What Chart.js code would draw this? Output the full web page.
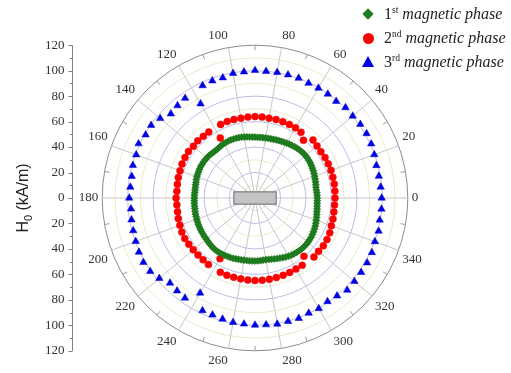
<!DOCTYPE html>
<html>
<head>
<meta charset="utf-8">
<script src="https://cdn.jsdelivr.net/npm/chart.js@4.4.1/dist/chart.umd.min.js"></script>
<style>
  html, body { margin: 0; padding: 0; background: #fff; }
  #wrap { position: relative; width: 511px; height: 373px; }
  #legend { position: absolute; left: 0; top: 0; font-family: 'Liberation Serif', 'Times New Roman', serif; font-size: 16px; color: #222; }
  .row { position: absolute; left: 384px; height: 20px; line-height: 20px; white-space: nowrap; }
  .row sup { font-size: 9.5px; vertical-align: 0; position: relative; top: -6px; }
  .mk { position: absolute; }
  .dia { width: 8px; height: 8px; background: #1e7d1e; transform: rotate(45deg); left: 364px; top: 10px; }
  .dot { width: 11px; height: 11px; border-radius: 50%; background: #f00; left: 362.5px; top: 32.5px; }
  .tri { width: 0; height: 0; border-left: 6px solid transparent; border-right: 6px solid transparent; border-bottom: 11px solid #0000e6; left: 362px; top: 56px; }
</style>
</head>
<body>
<div id="wrap">
  <canvas id="chart"></canvas>
  <div id="legend">
    <div class="mk dia"></div>
    <div class="row" style="top:4px">1<sup>st</sup> <i>magnetic phase</i></div>
    <div class="mk dot"></div>
    <div class="row" style="top:28px">2<sup>nd</sup> <i>magnetic phase</i></div>
    <div class="mk tri"></div>
    <div class="row" style="top:52px">3<sup>rd</sup> <i>magnetic phase</i></div>
  </div>
</div>
<script>
// Field direction (degrees) for each measured point
const phase1Angles = Array.from({ length: 144 }, (_, i) => i * 2.5);
const phase23Angles = Array.from({ length: 72 }, (_, i) => i * 5);

// Switching field H0 (kA/m), 1st phase, every 2.5 deg from 0
const phase1 = [
  48.9, 48.8, 48.7, 48.6, 48.6, 48.9, 49.2, 49.5,
  49.8, 50.2, 50.5, 50.8, 51.1, 51.4, 51.6, 51.7,
  51.8, 51.8, 51.6, 51.4, 51.2, 50.8, 50.4, 50.1,
  49.8, 49.4, 49.1, 48.8, 48.6, 48.3, 48.1, 48.0,
  47.9, 47.8, 47.8, 47.7, 47.8, 47.9, 48.1, 48.4,
  48.6, 48.9, 49.1, 49.2, 49.3, 49.4, 49.4, 49.3,
  49.3, 49.0, 48.7, 48.5, 48.5, 48.6, 48.9, 49.1,
  49.2, 49.3, 49.4, 49.3, 49.3, 49.1, 48.9, 48.8,
  48.6, 48.3, 48.0, 47.8, 47.6, 47.5, 47.5, 47.6,
  47.6, 47.7, 47.8, 47.9, 48.0, 48.2, 48.4, 48.5,
  48.7, 48.9, 49.1, 49.3, 49.4, 49.6, 49.7, 49.9,
  50.0, 50.3, 50.6, 50.9, 51.2, 51.3, 51.3, 51.2,
  51.1, 50.9, 50.7, 50.6, 50.4, 50.1, 49.9, 49.7,
  49.6, 49.5, 49.5, 49.5, 49.5, 49.4, 49.3, 49.2,
  49.2, 49.4, 49.8, 50.2, 50.6, 51.1, 51.7, 52.3,
  52.8, 53.2, 53.5, 53.8, 54.0, 54.2, 54.3, 54.3,
  54.2, 54.0, 53.8, 53.5, 53.1, 52.7, 52.2, 51.7,
  51.2, 50.7, 50.2, 49.8, 49.5, 49.2, 49.0, 48.9
];

// 2nd phase, every 5 deg from 0
const phase2 = [
  62.8, 63.0, 63.2, 63.3, 63.5, 63.5, 63.5, 63.2,
  63.6, 64.4, 59.2, 63.0, 63.6, 63.8, 63.8, 63.8,
  63.7, 63.8, 64.0, 63.8, 63.7, 63.8, 63.9, 63.8,
  54.5, 63.3, 63.2, 63.6, 63.2, 63.8, 63.5, 63.3,
  62.7, 62.4, 61.9, 61.6, 62.0, 61.6, 61.8, 62.4,
  62.8, 63.4, 63.7, 63.4, 63.3, 63.3, 63.4, 63.8,
  55.0, 64.4, 64.6, 64.5, 64.5, 64.6, 64.8, 64.8,
  64.8, 64.7, 64.6, 64.5, 64.3, 64.6, 59.8, 65.5,
  65.2, 65.5, 65.3, 64.8, 63.8, 63.4, 62.9, 62.7
];

// 3rd phase, every 5 deg from 0
const phase3 = [
  99.5, 99.1, 98.8, 98.7, 99.7, 100.7, 101.2, 101.0,
  100.2, 100.5, 99.2, 99.7, 99.7, 99.5, 100.2, 100.2,
  100.2, 99.9, 100.2, 99.5, 99.4, 97.8, 98.0, 97.4,
  85.5, 95.7, 94.7, 93.5, 97.2, 99.6, 99.2, 100.9,
  99.3, 99.3, 98.3, 98.3, 98.8, 97.8, 98.5, 99.0,
  99.7, 100.6, 101.2, 100.5, 98.1, 94.4, 95.2, 95.9,
  86.2, 97.6, 97.7, 98.4, 99.2, 99.3, 99.8, 99.9,
  100.5, 100.3, 100.6, 99.8, 100.2, 99.3, 100.3, 102.4,
  101.9, 101.8, 101.7, 101.3, 100.2, 100.5, 99.5, 99.7
];

const angleTicks = [0, 20, 40, 60, 80, 100, 120, 140, 160, 180, 200, 220, 240, 260, 280, 300, 320, 340];
const fieldTicks = [0, 20, 40, 60, 80, 100, 120];
const fieldMax = 120;

// The radial scale runs clockwise from the top; map each slot to a
// counter-clockwise angle measured from the right-hand side.
const SLOTS = 144;
const slotAngle = i => ((90 - 2.5 * i) % 360 + 360) % 360;
const slotLabels = Array.from({ length: SLOTS }, (_, i) => slotAngle(i));

function toSlots(angles, values) {
  const m = new Map(angles.map((a, k) => [a, values[k]]));
  return slotLabels.map(t => (m.has(t) ? m.get(t) : null));
}

const serif = "'Liberation Serif', 'Times New Roman', serif";

const polarExtras = {
  id: 'polarExtras',
  beforeDatasetsDraw(chart) {
    const s = chart.scales.r;
    const ctx = chart.ctx;
    const R = s.getDistanceFromCenterForValue(fieldMax);
    ctx.save();
    // short rim ticks halfway between labelled directions
    ctx.strokeStyle = '#9a9a9a';
    ctx.lineWidth = 1;
    slotLabels.forEach((t, i) => {
      if (t % 10 === 0 && t % 20 !== 0) {
        const a = s.getPointPosition(i, R);
        const b = s.getPointPosition(i, R - 5);
        ctx.beginPath();
        ctx.moveTo(a.x, a.y);
        ctx.lineTo(b.x, b.y);
        ctx.stroke();
      }
    });
    // sample outline at the centre
    const hw = s.getDistanceFromCenterForValue(17);
    const hh = s.getDistanceFromCenterForValue(5.2);
    ctx.fillStyle = '#c3c3c3';
    ctx.strokeStyle = '#707070';
    ctx.fillRect(s.xCenter - hw, s.yCenter - hh, 2 * hw, 2 * hh);
    ctx.strokeRect(s.xCenter - hw + 0.5, s.yCenter - hh + 0.5, 2 * hw - 1, 2 * hh - 1);
    ctx.restore();
  },
  afterDraw(chart) {
    const s = chart.scales.r;
    const ctx = chart.ctx;
    const x = 72.5;
    const yc = s.yCenter;
    const R = s.getDistanceFromCenterForValue(fieldMax);
    ctx.save();
    ctx.strokeStyle = '#808080';
    ctx.lineWidth = 1;
    ctx.beginPath();
    ctx.moveTo(x, yc - R);
    ctx.lineTo(x, yc + R);
    for (let v = 0; v <= fieldMax; v += 10) {
      const d = s.getDistanceFromCenterForValue(v);
      const len = v % 20 === 0 ? 4 : 2.5;
      [-1, 1].forEach(sg => {
        const y = Math.round(yc + sg * d) + 0.5;
        ctx.moveTo(x, y);
        ctx.lineTo(x - len, y);
      });
    }
    ctx.stroke();
    ctx.fillStyle = '#333';
    ctx.font = '13px ' + serif;
    ctx.textAlign = 'right';
    ctx.textBaseline = 'middle';
    fieldTicks.forEach(v => {
      const d = s.getDistanceFromCenterForValue(v);
      ctx.fillText(String(v), x - 8, yc - d);
      if (v !== 0) ctx.fillText(String(v), x - 8, yc + d);
    });
    // axis title H0 (kA/m)
    ctx.translate(22, yc);
    ctx.rotate(-Math.PI / 2);
    ctx.fillStyle = '#222';
    ctx.textAlign = 'left';
    ctx.textBaseline = 'alphabetic';
    const big = "16px 'Liberation Sans', Arial, sans-serif";
    const small = "11px 'Liberation Sans', Arial, sans-serif";
    ctx.font = big;
    const wH = ctx.measureText('H').width;
    const rest = ' (kA/m)';
    const wRest = ctx.measureText(rest).width;
    ctx.font = small;
    const w0 = ctx.measureText('0').width;
    const total = wH + w0 + wRest;
    let px = -total / 2;
    const base = 6;
    ctx.font = big;
    ctx.fillText('H', px, base);
    px += wH;
    ctx.font = small;
    ctx.fillText('0', px, base + 4);
    px += w0;
    ctx.font = big;
    ctx.fillText(rest, px, base);
    ctx.restore();
  }
};

new Chart(document.getElementById('chart'), {
  type: 'radar',
  data: {
    labels: slotLabels,
    datasets: [
      {
        label: '1st magnetic phase',
        data: toSlots(phase1Angles, phase1),
        showLine: false,
        fill: false,
        pointStyle: 'rectRot',
        pointRadius: 3.6,
        pointBackgroundColor: '#1e7d1e',
        pointBorderColor: '#1a6e1a',
        pointBorderWidth: 0.5
      },
      {
        label: '2nd magnetic phase',
        data: toSlots(phase23Angles, phase2),
        showLine: false,
        fill: false,
        pointStyle: 'circle',
        pointRadius: 3.5,
        pointBackgroundColor: '#ff0000',
        pointBorderColor: '#f00000',
        pointBorderWidth: 0.5
      },
      {
        label: '3rd magnetic phase',
        data: toSlots(phase23Angles, phase3),
        showLine: false,
        fill: false,
        pointStyle: 'triangle',
        pointRadius: 4.3,
        pointBackgroundColor: '#0000e6',
        pointBorderColor: '#0000d0',
        pointBorderWidth: 0.5
      }
    ]
  },
  options: {
    responsive: true,
    maintainAspectRatio: false,
    animation: false,
    events: [],
    layout: { padding: { left: 46, right: 46, top: 29, bottom: 4 } },
    plugins: { legend: { display: false }, tooltip: { enabled: false } },
    scales: {
      r: {
        min: 0,
        max: fieldMax,
        startAngle: 0,
        ticks: { stepSize: 10, display: false },
        grid: {
          circular: true,
          lineWidth: 1,
          color: ctx => {
            const v = ctx.tick.value;
            if (v === fieldMax) return '#8c8c8c';
            return v % 20 === 0 ? '#bcbce6' : '#e3edc6';
          }
        },
        angleLines: {
          color: '#c6c6c6',
          lineWidth: ctx => (angleTicks.includes(slotLabels[ctx.index]) ? 1 : 0)
        },
        pointLabels: {
          color: '#333',
          padding: ctx => (angleTicks.includes(slotLabels[ctx.index]) ? 4 : 0),
          font: ctx => ({ family: serif, size: angleTicks.includes(slotLabels[ctx.index]) ? 13 : 1 }),
          callback: (label) => (angleTicks.includes(+label) ? String(label) : '')
        }
      }
    }
  },
  plugins: [polarExtras]
});
</script>
</body>
</html>
